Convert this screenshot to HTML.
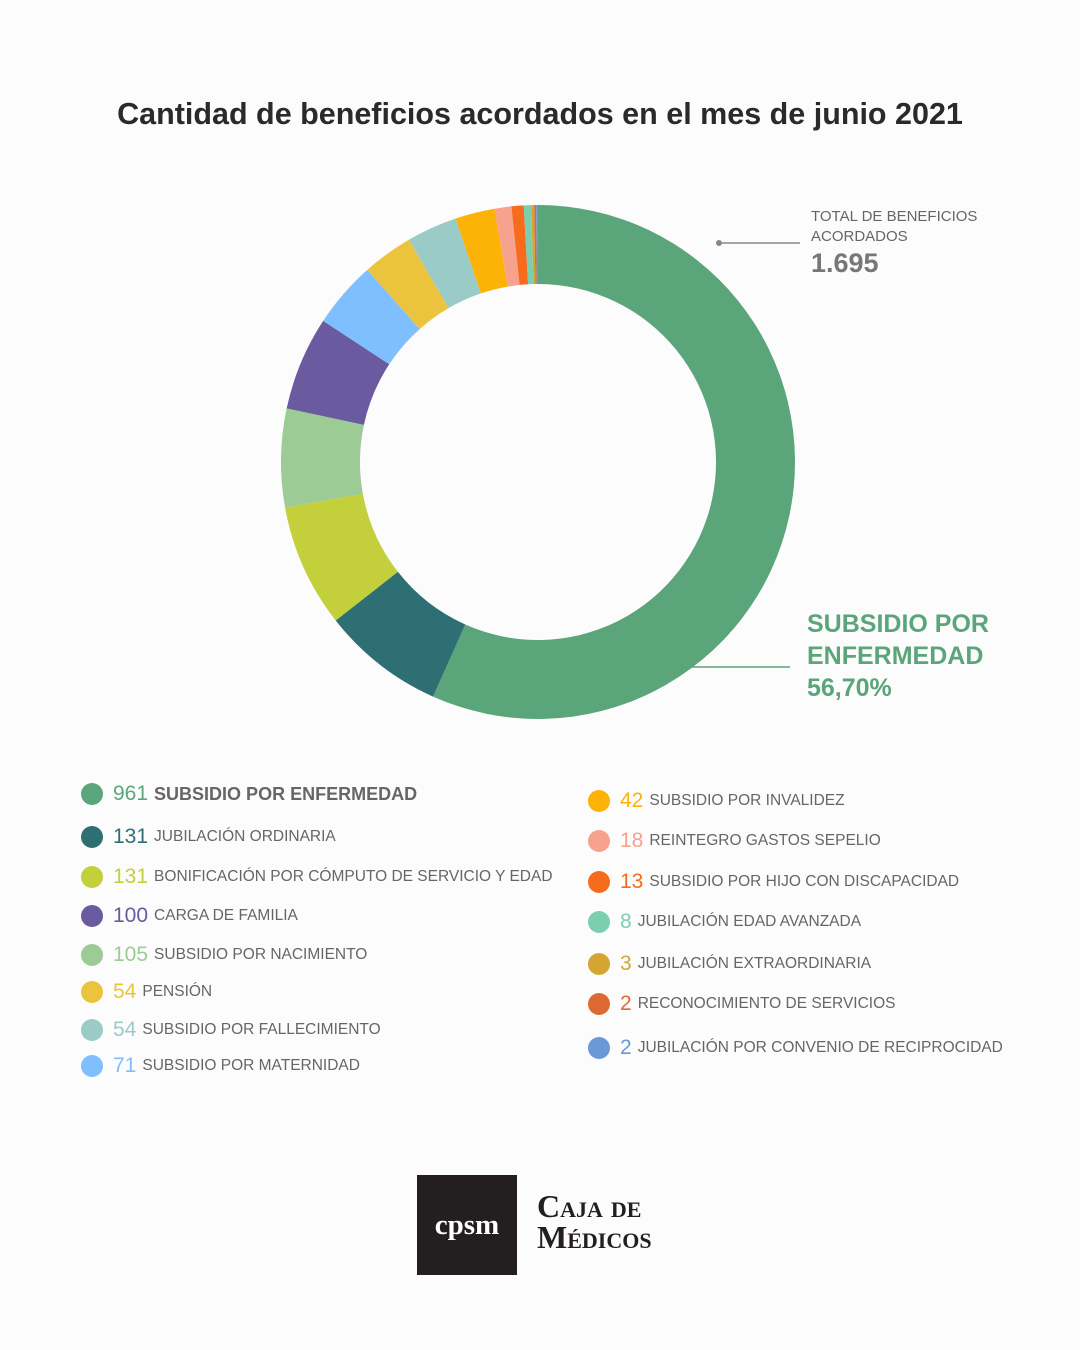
<!DOCTYPE html>
<html><head><meta charset="utf-8"><style>
body{margin:0;background:#fcfcfc;font-family:"Liberation Sans","DejaVu Sans",sans-serif}
#wrap{position:relative;width:1080px;height:1350px;overflow:hidden}
.t{position:absolute;white-space:nowrap}
.lg{position:absolute;display:flex;align-items:center;white-space:nowrap;font-size:15.5px;color:#666}
.lg .d{width:22px;height:22px;border-radius:50%;margin-right:10px;flex:none}
.lg .n{font-size:21px;margin-right:6px}
</style></head><body>
<div id="wrap">
<div class="t" style="left:0;width:1080px;text-align:center;top:97px;font-size:30.5px;font-weight:bold;color:#2a2a2a">Cantidad de beneficios acordados en el mes de junio 2021</div>
<svg id="chart" width="1080" height="760" style="position:absolute;left:0;top:0"></svg>
<div class="t" style="left:811px;top:207px;font-size:15px;color:#666;line-height:20px">TOTAL DE BENEFICIOS<br>ACORDADOS</div>
<div class="t" style="left:811px;top:248px;font-size:27px;font-weight:bold;color:#777">1.695</div>
<div class="t" style="left:807px;top:608px;font-size:25px;font-weight:bold;color:#5ba57a;line-height:32px">SUBSIDIO POR<br>ENFERMEDAD<br>56,70%</div>
<div id="legend"></div>
<div style="position:absolute;left:417px;top:1175px;width:100px;height:100px;background:#231f20;color:#fff;font-family:'Liberation Serif',serif;font-weight:bold;font-size:29px;display:flex;align-items:center;justify-content:center">cpsm</div>
<div class="t" style="left:537px;top:1191px;font-family:'Liberation Serif',serif;font-weight:bold;font-size:32px;color:#231f20;line-height:31px;font-variant:small-caps">Caja de<br>Médicos</div>
</div>
<script>
const labels=["SUBSIDIO POR ENFERMEDAD","JUBILACIÓN ORDINARIA","BONIFICACIÓN POR CÓMPUTO DE SERVICIO Y EDAD","SUBSIDIO POR NACIMIENTO","CARGA DE FAMILIA","SUBSIDIO POR MATERNIDAD","PENSIÓN","SUBSIDIO POR FALLECIMIENTO","SUBSIDIO POR INVALIDEZ","REINTEGRO GASTOS SEPELIO","SUBSIDIO POR HIJO CON DISCAPACIDAD","JUBILACIÓN EDAD AVANZADA","JUBILACIÓN EXTRAORDINARIA","RECONOCIMIENTO DE SERVICIOS","JUBILACIÓN POR CONVENIO DE RECIPROCIDAD"];
const values=[961,131,131,105,100,71,54,54,42,18,13,8,3,2,2];
const colors=["#5ba57a","#2d6f73","#c3cf3b","#9dcb96","#6a5a9f","#7fbfff","#ecc33c","#9acbc6","#fdb305","#f7a28c","#f76b1c","#7bcfae","#d4a531","#de6a33","#6b98d6"];
const legendOrder=[0,1,2,4,3,6,7,5,8,9,10,11,12,13,14];
const NS="http://www.w3.org/2000/svg",svg=document.getElementById('chart');
const cx=538,cy=462,R=257,r=178,total=values.reduce((a,b)=>a+b,0);
let a0=0;
function pt(a,rad){return [cx+rad*Math.sin(a),cy-rad*Math.cos(a)];}
values.forEach((v,i)=>{const a1=a0+v/total*2*Math.PI,lg=(a1-a0)>Math.PI?1:0;
const [x1,y1]=pt(a0,R),[x2,y2]=pt(a1,R),[x3,y3]=pt(a1,r),[x4,y4]=pt(a0,r);
const p=document.createElementNS(NS,'path');
p.setAttribute('d',`M${x1},${y1}A${R},${R} 0 ${lg} 1 ${x2},${y2}L${x3},${y3}A${r},${r} 0 ${lg} 0 ${x4},${y4}Z`);
p.setAttribute('fill',colors[i]);


svg.appendChild(p);a0=a1;});
function line(x1,y1,x2,y2,c,n){const l=document.createElementNS(NS,'line');l.setAttribute('x1',x1);l.setAttribute('y1',y1);l.setAttribute('x2',x2);l.setAttribute('y2',y2);l.setAttribute('stroke',c);l.setAttribute('stroke-width',1.5);


svg.appendChild(l);}
line(719,243,800,243,'#888','total-leader');
const c=document.createElementNS(NS,'circle');c.setAttribute('cx',719);c.setAttribute('cy',243);c.setAttribute('r',3);c.setAttribute('fill','#888');


svg.appendChild(c);
line(690,667,790,667,'#5ba57a','highlight-leader');
const leftY=[794,837,877,916,955,992,1030,1066],rightY=[801,841,882,922,964,1004,1048];
const lgEl=document.getElementById('legend');
legendOrder.forEach((idx,k)=>{const left=k<8,y=left?leftY[k]:rightY[k-8],x=left?81:588;
const d=document.createElement('div');d.className='lg';d.style.left=x+'px';d.style.top=(y-13)+'px';d.style.height='26px';


const big=idx===0;
d.innerHTML=`<span class="d" style="background:${colors[idx]}"></span><span class="n" style="color:${colors[idx]}">${values[idx]}</span><span style="${big?'font-size:18px;font-weight:bold;color:#666':''}">${labels[idx]}</span>`;
lgEl.appendChild(d);});
</script>
</body></html>
